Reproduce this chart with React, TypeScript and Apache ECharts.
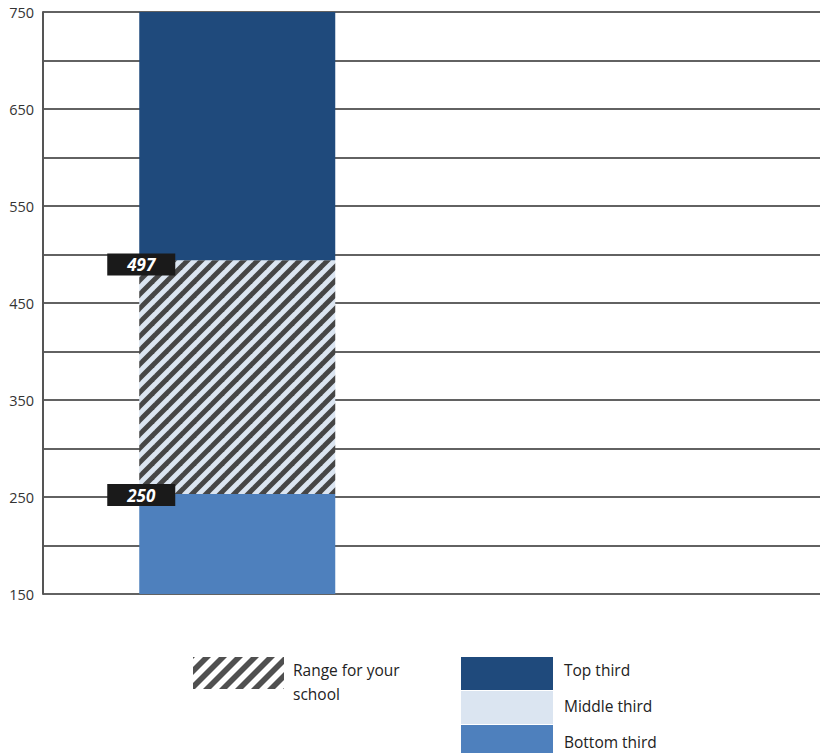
import React, { useEffect, useRef } from "react";
import * as echarts from "echarts";

// ---- data ----
const categories = ["Your school", ""];
const bottomThird = [253, null]; // 150 -> 253 (stack starts at 0, clipped at axis min)
const schoolRange = [241, null]; // 253 -> 494
const topThird = [256, null]; // 494 -> 750
const markerValues = [497, 250];
const markerLabels = ["497", "250"];
const yMin = 150;
const yMax = 750;
const yStep = 50;
const legendRangeLines = ["Range for your", "school"];
const legendThirds = ["Top third", "Middle third", "Bottom third"];

const COLORS = {
  top: "#1F4A7C",
  middle: "#DBE5F1",
  bottom: "#4E80BD",
  stripe: "#464646",
  grid: "#2e2e2e",
};

function stripeCanvas(bg: string, fg: string, P: number, frac: number) {
  const c = document.createElement("canvas");
  c.width = P;
  c.height = P;
  const ctx = c.getContext("2d")!;
  ctx.fillStyle = bg;
  ctx.fillRect(0, 0, P, P);
  ctx.strokeStyle = fg;
  ctx.lineWidth = (frac * P) / Math.SQRT2;
  for (const x of [-P, 0, P]) {
    ctx.beginPath();
    ctx.moveTo(x - 2, P + 2);
    ctx.lineTo(x + P + 2, -2);
    ctx.stroke();
  }
  return c;
}

export default function App() {
  const ref = useRef<HTMLDivElement>(null);
  useEffect(() => {
    if (!ref.current) return;
    const chart = echarts.init(ref.current, null, { renderer: "svg" });
    const barPattern = stripeCanvas(COLORS.middle, COLORS.stripe, 14, 0.5);
    const legendPattern = stripeCanvas("#ffffff", "#505050", 16, 0.5);
    const font = "'Open Sans', 'Noto Sans', sans-serif";

    const thirdColors = [COLORS.top, COLORS.middle, COLORS.bottom];
    const legendGraphics: any[] = [
      {
        type: "rect",
        shape: { x: 193, y: 657, width: 91, height: 32 },
        style: { fill: { image: legendPattern, repeat: "repeat" } as any },
      },
      {
        type: "text",
        x: 293,
        y: 658,
        style: {
          text: legendRangeLines.join("\n"),
          font: `15.5px ${font}`,
          fill: "#222",
          lineHeight: 24,
        },
      },
    ];
    legendThirds.forEach((name, i) => {
      legendGraphics.push({
        type: "rect",
        shape: { x: 461, y: 657 + i * 34, width: 92, height: 33 },
        style: { fill: thirdColors[i] },
      });
      legendGraphics.push({
        type: "text",
        x: 564,
        y: 670 + i * 36,
        style: {
          text: name,
          font: `15.5px ${font}`,
          fill: "#222",
          verticalAlign: "middle",
        },
      });
    });

    chart.setOption({
      animation: false,
      grid: { left: 43, right: 0, top: 12, bottom: 159 },
      xAxis: {
        type: "category",
        data: categories,
        show: false,
      },
      yAxis: {
        type: "value",
        min: yMin,
        max: yMax,
        interval: yStep,
        axisLine: { show: true, lineStyle: { color: "#555", width: 2 } },
        axisTick: { show: false },
        splitLine: { lineStyle: { color: COLORS.grid, width: 1.6 } },
        axisLabel: {
          margin: 9,
          color: "#333",
          fontSize: 14.5,
          fontFamily: font,
          formatter: (v: number) => ((v - yMin) % (yStep * 2) === 0 ? String(v) : ""),
        },
      },
      series: [
        {
          name: "Bottom third",
          type: "bar",
          stack: "s",
          barWidth: 196,
          data: bottomThird,
          itemStyle: { color: COLORS.bottom },
        },
        {
          name: "Range for your school",
          type: "bar",
          stack: "s",
          barWidth: 196,
          data: schoolRange,
          itemStyle: { color: { image: barPattern, repeat: "repeat" } as any },
        },
        {
          name: "Top third",
          type: "bar",
          stack: "s",
          barWidth: 196,
          data: topThird,
          itemStyle: { color: COLORS.top },
        },
        {
          name: "Markers",
          type: "scatter",
          z: 5,
          symbol: "rect",
          symbolSize: [68, 22],
          itemStyle: { color: "#1a1a1a", opacity: 1 },
          data: markerValues.map((v, i) => ({
            value: [0, v],
            symbolOffset: [-96, i === 0 ? 7 : -2],
            label: {
              show: true,
              position: "inside",
              formatter: markerLabels[i],
              color: "#fff",
              fontStyle: "italic",
              fontWeight: "bold",
              fontSize: 17,
              fontFamily: font,
            },
          })),
        },
      ],
      graphic: legendGraphics,
    });
    return () => chart.dispose();
  }, []);
  return (
    <div
      ref={ref}
      style={{ position: "fixed", left: 0, top: 0, width: 820, height: 753, background: "#fff" }}
    />
  );
}
